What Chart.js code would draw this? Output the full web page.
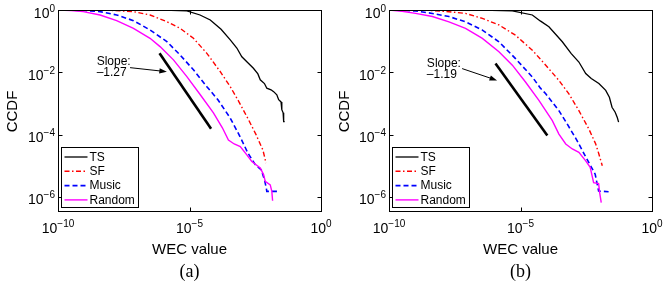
<!DOCTYPE html>
<html>
<head>
<meta charset="utf-8">
<script src="https://cdn.jsdelivr.net/npm/chart.js@4.4.1/dist/chart.umd.min.js"></script>
<style>
  html, body { margin: 0; padding: 0; background: #fff; }
  #wrap { position: relative; width: 664px; height: 288px; }
  canvas { position: absolute; top: 0; }
  #chartA { left: 0; }
  #chartB { left: 332px; }
</style>
</head>
<body>
<div id="wrap">
  <canvas id="chartA" width="332" height="288"></canvas>
  <canvas id="chartB" width="332" height="288"></canvas>
</div>
<script>
// --- axes: everything is log10 exponents ---
const xTickExp = [-10, -5, 0];
const yTickExp = [0, -2, -4, -6];
const xRangeExp = [-10, 0];
const yRangeExp = [-6.45, 0];

const seriesNames = ['TS', 'SF', 'Music', 'Random'];

// --- panel (a) ---
const tsA_x = [-10, -6.0, -5.1, -4.6, -4.21, -3.8, -3.45, -3.2, -3.01, -2.82, -2.57, -2.4, -2.31, -2.15, -2.06, -1.9, -1.8, -1.68, -1.61, -1.52, -1.49, -1.44, -1.42, -1.38];
const tsA_y = [0, -0.005, -0.03, -0.16, -0.32, -0.62, -0.96, -1.22, -1.50, -1.66, -1.87, -2.05, -2.24, -2.36, -2.51, -2.56, -2.62, -2.72, -2.88, -2.95, -3.2, -3.3, -3.58, -3.58];
const sfA_x = [-10, -8, -7.13, -6.5, -5.86, -5.36, -4.85, -4.34, -3.83, -3.45, -3.13, -2.75, -2.47, -2.21, -2.09];
const sfA_y = [0, -0.01, -0.053, -0.16, -0.374, -0.588, -0.908, -1.39, -1.98, -2.46, -2.93, -3.53, -4.0, -4.49, -4.91];
const musicA_x = [-10, -9, -8.4, -7.77, -7.13, -6.5, -5.86, -5.36, -4.85, -4.34, -3.92, -3.45, -3.08, -2.78, -2.5, -2.27, -2.15, -2.08, -2.06, -1.63];
const musicA_y = [0, -0.015, -0.053, -0.16, -0.342, -0.64, -1.015, -1.44, -1.92, -2.46, -2.88, -3.47, -4.06, -4.59, -4.96, -5.13, -5.45, -5.71, -5.82, -5.82];
const randomA_x = [-10, -9.5, -9.04, -8.4, -7.77, -7.13, -6.5, -6.12, -5.61, -5.1, -4.59, -4.09, -3.75, -3.52, -3.3, -3.07, -2.82, -2.63, -2.31, -2.18, -2.12, -1.93, -1.87, -1.84];
const randomA_y = [0, -0.02, -0.053, -0.16, -0.342, -0.588, -0.908, -1.175, -1.60, -2.14, -2.72, -3.30, -3.78, -4.17, -4.30, -4.38, -4.65, -4.86, -5.07, -5.29, -5.50, -5.61, -5.82, -6.12];
const slopeA_x = [-6.14, -4.18];
const slopeA_y = [-1.39, -3.81];
const slopeA_label = ['Slope:', '\u20131.27'];
const arrowA = { text: [-8.53, -1.66], from: [-7.26, -1.85], to: [-5.86, -1.98] };

// --- panel (b) ---
const tsB_x = [-10, -6.5, -5.31, -4.55, -4.25, -3.92, -3.41, -3.07, -2.78, -2.52, -2.31, -2.02, -1.76, -1.62, -1.52, -1.40, -1.32, -1.27];
const tsB_y = [0, -0.005, -0.03, -0.16, -0.35, -0.54, -1.02, -1.40, -1.67, -2.04, -2.20, -2.36, -2.58, -2.80, -3.12, -3.28, -3.45, -3.60];
const sfB_x = [-10, -8.5, -7.72, -7.09, -6.45, -5.82, -5.19, -4.55, -4.04, -3.54, -3.16, -2.78, -2.40, -2.14, -2.02, -1.89];
const sfB_y = [0, -0.01, -0.054, -0.11, -0.27, -0.48, -0.81, -1.29, -1.77, -2.26, -2.69, -3.23, -3.82, -4.30, -4.62, -5.0];
const musicB_x = [-10, -9, -8.35, -7.72, -7.09, -6.45, -5.82, -5.19, -4.55, -4.25, -4.04, -3.54, -3.23, -2.85, -2.54, -2.16, -2.03, -1.65];
const musicB_y = [0, -0.03, -0.11, -0.21, -0.38, -0.645, -1.02, -1.56, -2.15, -2.50, -2.69, -3.23, -3.65, -4.19, -4.68, -5.27, -5.81, -5.83];
const randomB_x = [-10, -9.5, -8.99, -8.35, -7.72, -7.09, -6.45, -5.82, -5.31, -4.81, -4.30, -3.79, -3.54, -3.28, -3.03, -2.78, -2.52, -2.35, -2.22, -2.03, -1.99, -1.93];
const randomB_y = [0, -0.04, -0.11, -0.21, -0.38, -0.59, -0.91, -1.34, -1.77, -2.31, -2.90, -3.55, -3.98, -4.30, -4.46, -4.57, -4.84, -5.05, -5.54, -5.57, -5.86, -6.18];
const slopeB_x = [-5.95, -3.98];
const slopeB_y = [-1.72, -4.03];
const slopeB_label = ['Slope:', '\u20131.19'];
const arrowB = { text: [-8.56, -1.72], from: [-7.22, -1.88], to: [-5.89, -2.26] };

const SANS = '"Liberation Sans", Arial, Helvetica, sans-serif';
const SERIF = '"Liberation Serif", "Times New Roman", serif';

// exponent arrays -> {x, y} points on the log axes
function pts(xs, ys) {
    return xs.map((e, i) => ({ x: Math.pow(10, e), y: Math.pow(10, ys[i]) }));
}

// "10" with a raised exponent; y is the baseline of the "10"
function drawPow(ctx, x, y, exp, align) {
    const sup = String(exp).replace('-', '\u2212');
    ctx.font = '14px ' + SANS;
    const wb = ctx.measureText('10').width;
    ctx.font = '10px ' + SANS;
    const ws = ctx.measureText(sup).width;
    const x0 = align === 'right' ? x - wb - ws : x - (wb + ws) / 2;
    ctx.textAlign = 'left';
    ctx.textBaseline = 'alphabetic';
    ctx.font = '14px ' + SANS;
    ctx.fillText('10', x0, y);
    ctx.font = '10px ' + SANS;
    ctx.fillText(sup, x0 + wb, y - 6);
}

// MATLAB-ish box, inward ticks, labels, legend and the slope note
const matlabPlugin = {
    id: 'matlab',
    afterDraw(chart, args, opts) {
        const { ctx, chartArea: a } = chart;
        const xs = chart.scales.x, ys = chart.scales.y;
        const px = e => xs.getPixelForValue(Math.pow(10, e));
        const py = e => ys.getPixelForValue(Math.pow(10, e));
        const L = Math.round(a.left) + 0.5, R = Math.round(a.right) + 0.5;
        const T = Math.round(a.top) + 0.5, B = Math.round(a.bottom) + 0.5;

        ctx.save();
        ctx.strokeStyle = '#000';
        ctx.fillStyle = '#000';
        ctx.lineWidth = 1;
        ctx.strokeRect(L, T, R - L, B - T);

        // tick marks on all four sides
        ctx.beginPath();
        xTickExp.forEach(e => {
            const x = Math.round(px(e)) + 0.5;
            ctx.moveTo(x, B); ctx.lineTo(x, B - 4);
            ctx.moveTo(x, T); ctx.lineTo(x, T + 4);
        });
        yTickExp.forEach(e => {
            const y = Math.round(py(e)) + 0.5;
            ctx.moveTo(L, y); ctx.lineTo(L + 4, y);
            ctx.moveTo(R, y); ctx.lineTo(R - 4, y);
        });
        ctx.stroke();

        // tick labels
        xTickExp.forEach(e => drawPow(ctx, px(e), a.bottom + 22, e, 'center'));
        yTickExp.forEach(e => drawPow(ctx, a.left - 3, py(e) + 7.5, e, 'right'));

        // axis titles
        ctx.font = '15px ' + SANS;
        ctx.textAlign = 'center';
        ctx.textBaseline = 'alphabetic';
        ctx.fillText('WEC value', (a.left + a.right) / 2, 254);
        ctx.save();
        ctx.translate(17, (a.top + a.bottom) / 2 + 1);
        ctx.rotate(-Math.PI / 2);
        ctx.fillText('CCDF', 0, 0);
        ctx.restore();

        // caption
        ctx.font = '18px ' + SERIF;
        ctx.fillText(opts.caption, (a.left + a.right) / 2, 277);

        // slope note + arrow
        ctx.font = '12px ' + SANS;
        ctx.textAlign = 'left';
        ctx.textBaseline = 'middle';
        const tx = px(opts.arrow.text[0]), ty = py(opts.arrow.text[1]);
        ctx.fillText(opts.slopeLabel[0], tx, ty);
        ctx.fillText(opts.slopeLabel[1], tx, ty + 11);
        const x1 = px(opts.arrow.from[0]), y1 = py(opts.arrow.from[1]);
        const x2 = px(opts.arrow.to[0]), y2 = py(opts.arrow.to[1]);
        const ang = Math.atan2(y2 - y1, x2 - x1);
        ctx.beginPath();
        ctx.moveTo(x1, y1);
        ctx.lineTo(x2 - 5 * Math.cos(ang), y2 - 5 * Math.sin(ang));
        ctx.stroke();
        ctx.beginPath();
        ctx.moveTo(x2, y2);
        ctx.lineTo(x2 - 8 * Math.cos(ang - 0.35), y2 - 8 * Math.sin(ang - 0.35));
        ctx.lineTo(x2 - 8 * Math.cos(ang + 0.35), y2 - 8 * Math.sin(ang + 0.35));
        ctx.closePath();
        ctx.fill();

        // legend box, bottom left inside the axes
        const items = chart.data.datasets.filter(d => d.inLegend);
        const bw = 77, bh = 60;
        const bx = Math.round(a.left) + 3.5, by = Math.round(a.bottom) - 3.5 - bh;
        ctx.fillStyle = '#fff';
        ctx.fillRect(bx, by, bw, bh);
        ctx.strokeStyle = '#000';
        ctx.lineWidth = 1;
        ctx.strokeRect(bx, by, bw, bh);
        items.forEach((d, i) => {
            const yy = by + 9.5 + i * 14.3;
            ctx.beginPath();
            ctx.strokeStyle = d.borderColor;
            ctx.lineWidth = d.borderWidth;
            ctx.setLineDash(d.borderDash || []);
            ctx.moveTo(bx + 3, yy);
            ctx.lineTo(bx + 26, yy);
            ctx.stroke();
            ctx.setLineDash([]);
            ctx.fillStyle = '#000';
            ctx.font = '12px ' + SANS;
            ctx.textBaseline = 'middle';
            ctx.fillText(d.label, bx + 28, yy + 0.5);
        });
        ctx.restore();
    }
};

function makeDatasets(ts, sf, music, random, slope) {
    const base = { showLine: true, pointRadius: 0, fill: false, tension: 0, inLegend: true };
    return [
        Object.assign({}, base, { label: seriesNames[0], data: ts, borderColor: '#000000', borderWidth: 1.3, order: 4 }),
        Object.assign({}, base, { label: seriesNames[1], data: sf, borderColor: '#ff0000', borderWidth: 1.4, borderDash: [5, 2.5, 1.5, 2.5], order: 3 }),
        Object.assign({}, base, { label: seriesNames[2], data: music, borderColor: '#0000ff', borderWidth: 1.6, borderDash: [5, 3], order: 2 }),
        Object.assign({}, base, { label: seriesNames[3], data: random, borderColor: '#ff00ff', borderWidth: 1.4, order: 1 }),
        Object.assign({}, base, { label: 'slope', data: slope, borderColor: '#000000', borderWidth: 2.6, order: 0, inLegend: false })
    ];
}

function makeChart(id, datasets, pad, note) {
    const ctx = document.getElementById(id).getContext('2d');
    return new Chart(ctx, {
        type: 'scatter',
        data: { datasets: datasets },
        options: {
            responsive: false,
            animation: false,
            devicePixelRatio: 1,
            layout: { padding: pad },
            scales: {
                x: {
                    type: 'logarithmic',
                    min: Math.pow(10, xRangeExp[0]),
                    max: Math.pow(10, xRangeExp[1]),
                    grid: { display: false, drawTicks: false },
                    border: { display: false },
                    ticks: { display: false }
                },
                y: {
                    type: 'logarithmic',
                    min: Math.pow(10, yRangeExp[0]),
                    max: Math.pow(10, yRangeExp[1]),
                    grid: { display: false, drawTicks: false },
                    border: { display: false },
                    ticks: { display: false }
                }
            },
            plugins: {
                legend: { display: false },
                tooltip: { enabled: false },
                matlab: note
            }
        },
        plugins: [matlabPlugin]
    });
}

document.addEventListener('DOMContentLoaded', () => {
    makeChart('chartA',
        makeDatasets(pts(tsA_x, tsA_y), pts(sfA_x, sfA_y), pts(musicA_x, musicA_y), pts(randomA_x, randomA_y), pts(slopeA_x, slopeA_y)),
        { left: 58, right: 11, top: 10, bottom: 77 },
        { caption: '(a)', slopeLabel: slopeA_label, arrow: arrowA });

    makeChart('chartB',
        makeDatasets(pts(tsB_x, tsB_y), pts(sfB_x, sfB_y), pts(musicB_x, musicB_y), pts(randomB_x, randomB_y), pts(slopeB_x, slopeB_y)),
        { left: 57, right: 12, top: 10, bottom: 77 },
        { caption: '(b)', slopeLabel: slopeB_label, arrow: arrowB });
});
</script>
</body>
</html>
